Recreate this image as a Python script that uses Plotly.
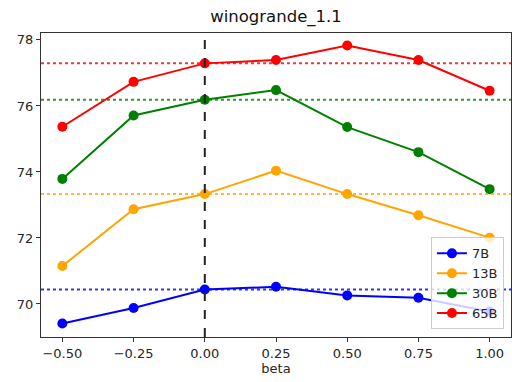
import plotly.graph_objects as go

beta = [-0.5, -0.25, 0.0, 0.25, 0.5, 0.75, 1.0]
series_names = ["7B", "13B", "30B", "65B"]
series_colors = ["blue", "orange", "green", "red"]
vals_7b = [69.41, 69.88, 70.44, 70.52, 70.26, 70.19, 69.77]
vals_13b = [71.15, 72.87, 73.33, 74.04, 73.33, 72.69, 72.01]
vals_30b = [73.79, 75.71, 76.19, 76.48, 75.36, 74.60, 73.48]
vals_65b = [75.37, 76.73, 77.29, 77.39, 77.83, 77.39, 76.46]
all_vals = [vals_7b, vals_13b, vals_30b, vals_65b]
x_ticks = [-0.5, -0.25, 0.0, 0.25, 0.5, 0.75, 1.0]
y_ticks = [70, 72, 74, 76, 78]

FONT = "DejaVu Sans"
fig = go.Figure()
shapes = []
base_idx = beta.index(0.0)
for name, color, vals in zip(series_names, series_colors, all_vals):
    fig.add_trace(go.Scatter(
        x=beta, y=vals, mode="lines+markers", name=name,
        line=dict(color=color, width=2),
        marker=dict(color=color, size=10),
    ))
    shapes.append(dict(type="line", xref="paper", yref="y", x0=0, x1=1,
                       y0=vals[base_idx], y1=vals[base_idx],
                       line=dict(color=color, width=2, dash="dot"), opacity=0.8))
shapes.append(dict(type="line", xref="x", yref="paper", x0=0, x1=0, y0=0, y1=1,
                   line=dict(color="#222222", width=2, dash="dash")))

fig.update_layout(
    width=512, height=382,
    margin=dict(l=41, r=1, t=33, b=45),
    plot_bgcolor="white", paper_bgcolor="white",
    font=dict(family=FONT, size=13, color="#262626"),
    title=dict(text="winogrande_1.1", x=(41 + 235) / 512, xanchor="center",
               y=1 - 16 / 382, yanchor="middle", font=dict(size=16.5, color="#111")),
    shapes=shapes,
    legend=dict(x=0.985, y=0.025, xanchor="right", yanchor="bottom",
                bgcolor="rgba(255,255,255,0.8)", bordercolor="#cccccc", borderwidth=1,
                font=dict(size=13), itemwidth=30, tracegroupgap=0),
    xaxis=dict(range=[-0.575, 1.075], tickvals=x_ticks, tickformat=".2f",
               showgrid=False, zeroline=False, showline=True, mirror=True,
               linecolor="#333", linewidth=1, ticks="outside", ticklen=4,
               tickcolor="#333", title=dict(text="beta", standoff=4, font=dict(size=13))),
    yaxis=dict(range=[69.0, 78.21], tickvals=y_ticks,
               showgrid=False, zeroline=False, showline=True, mirror=True,
               linecolor="#333", linewidth=1, ticks="outside", ticklen=4,
               tickcolor="#333"),
)
fig.write_html("out.html")
